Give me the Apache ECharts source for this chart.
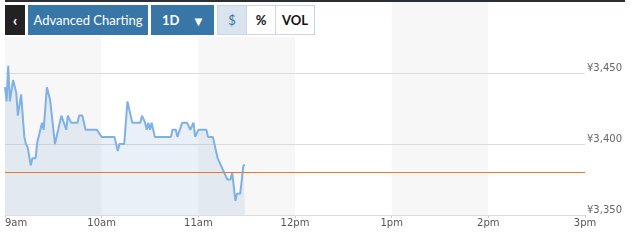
<!DOCTYPE html>
<html>
<head>
<meta charset="utf-8">
<script src="https://cdn.jsdelivr.net/npm/echarts@6/dist/echarts.min.js"></script>
<style>
  html, body { margin: 0; padding: 0; background: #fff; }
  #wrap { position: relative; width: 632px; height: 245px; overflow: hidden; }
  #main { position: absolute; left: 0; top: 0; width: 632px; height: 245px; }
  .topbar { position: absolute; left: 5px; top: 0; width: 620px; height: 2px; background: #2b2e33; }
  .toolbar { position: absolute; left: 0; top: 2px; width: 320px; height: 35px; background: #fff; }
  .btn { position: absolute; top: 5px; height: 30px; line-height: 30px; text-align: center;
         font-family: Lato, "Open Sans", sans-serif; box-sizing: border-box; }
  .back { left: 5px; width: 20px; background: #222; color: #fff; font-size: 16px; font-weight: bold; }
  .adv { left: 28px; width: 120px; background: #3876a7; color: #fff; font-size: 13px; }
  .range { left: 151px; width: 63px; background: #3876a7; color: #fff; font-size: 13px; font-weight: bold; text-align: left; padding-left: 11px; }
  .range span { position: absolute; left: 41px; top: 1px; font-size: 13px; }
  .tog { border: 1px solid #c8d7e7; font-size: 13px; font-weight: bold; color: #111; background: #fff; line-height: 28px; }
  .usd { left: 217px; width: 30px; background: #d9e4ef; color: #3876a7; font-weight: normal; }
  .pct { left: 246px; width: 30px; }
  .vol { left: 275px; width: 40px; }
</style>
</head>
<body>
<div id="wrap">
  <div id="main"></div>
  <div class="topbar"></div>
  <div class="toolbar"></div>
  <div class="btn back">&#8249;</div>
  <div class="btn adv">Advanced Charting</div>
  <div class="btn range">1D<span>&#9660;</span></div>
  <div class="btn tog usd">$</div>
  <div class="btn tog pct">%</div>
  <div class="btn tog vol">VOL</div>
</div>
<script>
// minutes after 9:00 and traded price
var times = [0, 1, 2, 3, 5, 7, 8, 10, 12, 13, 14, 16, 17, 19, 20, 23, 24, 26, 28, 31,
             32, 33, 35, 36, 38, 39, 41, 45, 46, 48, 50, 57, 60, 68, 70, 71, 74, 76, 79, 84,
             85, 87, 88, 89, 90, 91, 93, 103, 104, 106, 107, 110, 113, 115, 116, 117, 118, 120, 125, 126,
             129, 132, 133, 134, 135, 138, 140, 141, 143, 144, 146, 148, 149];
var prices = [3440, 3430, 3455, 3430, 3445, 3436, 3420, 3435, 3405, 3400, 3398, 3385, 3390, 3390, 3401, 3415, 3410, 3440, 3431, 3400,
              3400, 3410, 3420, 3420, 3410, 3420, 3415, 3415, 3420, 3420, 3410, 3410, 3405, 3405, 3395, 3400, 3400, 3430, 3415, 3415,
              3420, 3415, 3410, 3415, 3410, 3415, 3405, 3405, 3410, 3410, 3405, 3415, 3415, 3410, 3410, 3415, 3405, 3410, 3410, 3405,
              3405, 3390, 3390, 3385, 3385, 3375, 3375, 3380, 3360, 3365, 3365, 3385, 3385];
var hourLabels = ['9am', '10am', '11am', '12pm', '1pm', '2pm', '3pm'];
var yTicks = [3350, 3400, 3450];
var prevClose = 3380;

var myChart = echarts.init(document.getElementById('main'));

var seriesData = times.map(function (t, i) { return [t, prices[i]]; });

var option = {
    animation: false,
    grid: { left: 5, right: 47, top: 2, bottom: 30 },
    xAxis: {
        type: 'value',
        z: 0,
        min: 0,
        max: 360,
        interval: 60,
        axisLine: { lineStyle: { color: '#dddddd' } },
        axisTick: { show: true, length: 3, lineStyle: { color: '#cccccc' } },
        axisLabel: {
            margin: 3,
            color: '#555',
            fontFamily: 'DejaVu Sans',
            fontSize: 10,
            alignMinLabel: 'left',
            formatter: function (v) { return hourLabels[Math.round(v / 60)]; }
        },
        splitLine: { show: false },
        splitArea: { show: true, areaStyle: { color: ['#f7f7f7', '#ffffff'] } }
    },
    yAxis: {
        type: 'value',
        z: 1,
        position: 'right',
        min: 3350,
        max: 3500,
        interval: 50,
        axisLine: { show: false },
        axisTick: { show: false },
        axisLabel: {
            margin: 2,
            color: '#666',
            fontFamily: 'DejaVu Sans',
            fontSize: 10,
            verticalAlign: 'bottom',
            showMaxLabel: false,
            formatter: function (v) {
                return yTicks.indexOf(v) >= 0 ? '¥' + v.toLocaleString('en-US') : '';
            }
        },
        splitLine: { show: true, showMaxLine: false, lineStyle: { color: '#dcdcdc', width: 1 } }
    },
    series: [{
        type: 'line',
        z: 3,
        data: seriesData,
        showSymbol: false,
        lineStyle: { color: '#7fb1e4', width: 2 },
        areaStyle: { color: 'rgba(100,150,200,0.2)' },
        markLine: {
            silent: true,
            symbol: 'none',
            label: { show: false },
            lineStyle: { color: '#e8792c', width: 1, type: 'solid' },
            data: [{ yAxis: prevClose }]
        }
    }]
};

myChart.setOption(option);
</script>
</body>
</html>
